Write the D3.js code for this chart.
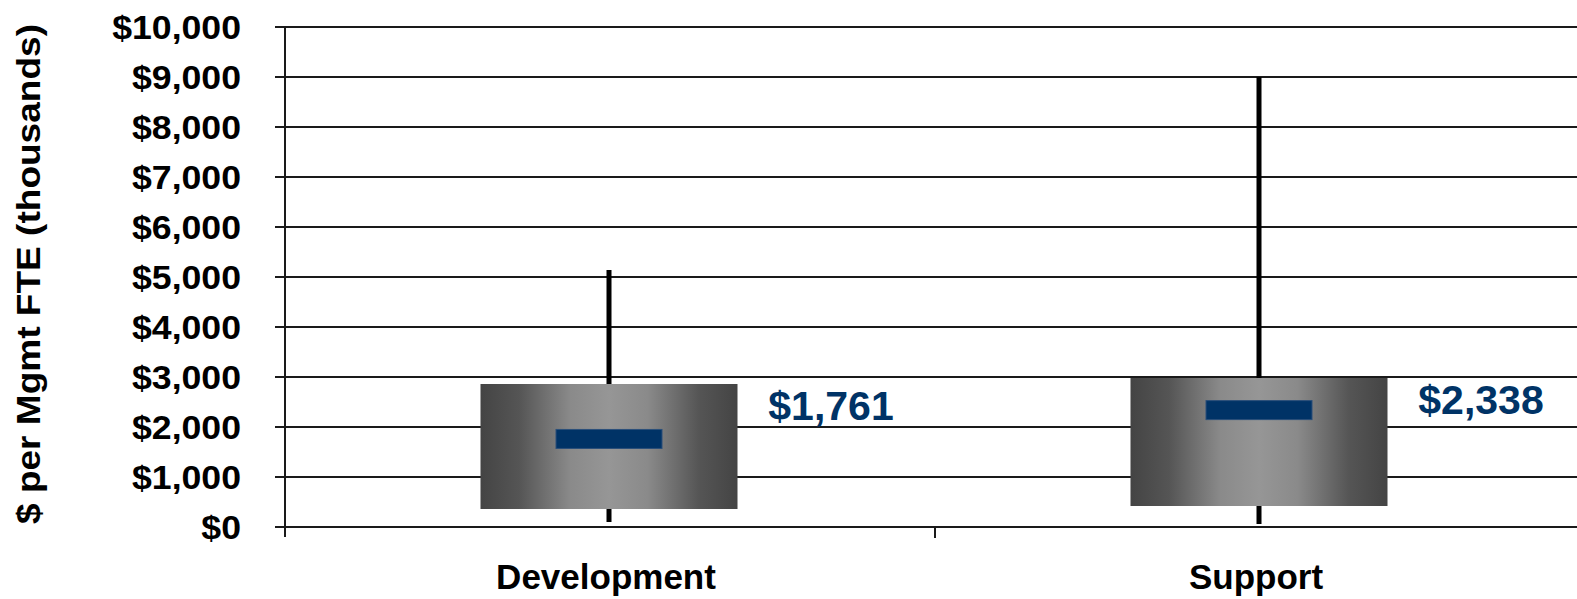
<!DOCTYPE html>
<html><head><meta charset="utf-8">
<script src="https://cdn.jsdelivr.net/npm/d3@7"></script>
<style>body{margin:0;background:#fff;}svg{display:block;}</style>
</head><body>
<script>
const categories = ["Development", "Support"];
const whiskerLow = [100, 60];
const whiskerHigh = [5140, 9000];
const boxLow = [360, 420];
const boxHigh = [2860, 2980];
const medians = [1761, 2338];
const medianLabels = ["$1,761", "$2,338"];
const yTicks = [0,1000,2000,3000,4000,5000,6000,7000,8000,9000,10000];

const W = 1577, H = 599;
const svg = d3.select("body").append("svg").attr("width", W).attr("height", H);
const font = "Arial, 'Liberation Sans', sans-serif";

const y = d3.scaleLinear().domain([0, 10000]).range([527, 27]);
const x = d3.scaleBand().domain(categories).range([285, 1585]).paddingInner(0).paddingOuter(0);

function stretch(sel, f) {
  sel.each(function() {
    const L = this.getComputedTextLength();
    d3.select(this).attr("textLength", L * f).attr("lengthAdjust", "spacingAndGlyphs");
  });
}

const defs = svg.append("defs");
const grad = defs.append("linearGradient").attr("id","boxg").attr("x1","0").attr("x2","1").attr("y1","0").attr("y2","0");
[[0,"#444"],[0.15,"#555"],[0.35,"#8a8a8a"],[0.5,"#969696"],[0.65,"#8a8a8a"],[0.85,"#555"],[1,"#444"]]
  .forEach(([o,c]) => grad.append("stop").attr("offset", o).attr("stop-color", c));

// gridlines
svg.append("g").selectAll("line").data(yTicks).join("line")
  .attr("x1", 275).attr("x2", W).attr("y1", d => y(d)).attr("y2", d => y(d))
  .attr("stroke", "#1a1a1a").attr("stroke-width", 2);

// y axis
const yAxis = d3.axisLeft(y).tickValues(yTicks).tickSize(0).tickPadding(0)
  .tickFormat(d => "$" + d3.format(",")(d));
const ga = svg.append("g").attr("transform", "translate(285,0)").call(yAxis);
ga.select(".domain").remove();
ga.selectAll("text").attr("x", -44).attr("dy", "0.35em")
  .style("font-family", font).style("font-weight", "bold").style("font-size", "33px").attr("fill", "#000")
  .call(stretch, 1.08);
svg.append("line").attr("x1", 285).attr("x2", 285).attr("y1", 27).attr("y2", 537)
  .attr("stroke", "#1a1a1a").attr("stroke-width", 2);

// x axis ticks
svg.append("g").selectAll("line").data([x("Support")]).join("line")
  .attr("x1", d => d).attr("x2", d => d).attr("y1", 527).attr("y2", 538)
  .attr("stroke", "#1a1a1a").attr("stroke-width", 2);

svg.append("g").selectAll("text").data(categories).join("text")
  .attr("x", d => x(d) + x.bandwidth()/2 - 4).attr("y", 589)
  .attr("text-anchor", "middle")
  .style("font-family", font).style("font-weight", "bold").style("font-size", "35px")
  .text(d => d);

// y title
svg.append("text").attr("transform", "translate(40,274) rotate(-90)")
  .attr("text-anchor", "middle")
  .style("font-family", font).style("font-weight", "bold").style("font-size", "33px")
  .text("$ per Mgmt FTE (thousands)")
  .attr("textLength", 500).attr("lengthAdjust", "spacingAndGlyphs");

const bw = 257, mw = 106;
const cx = d => x(d) + x.bandwidth()/2 - 1;
const g = svg.append("g").selectAll("g").data(categories).join("g");
g.append("line")
  .attr("x1", cx).attr("x2", cx)
  .attr("y1", (d,i) => y(whiskerLow[i])).attr("y2", (d,i) => y(whiskerHigh[i]))
  .attr("stroke", "#000").attr("stroke-width", 5);
g.append("rect")
  .attr("x", d => cx(d) - bw/2).attr("width", bw)
  .attr("y", (d,i) => y(boxHigh[i])).attr("height", (d,i) => y(boxLow[i]) - y(boxHigh[i]))
  .attr("fill", "url(#boxg)");
g.append("rect")
  .attr("x", d => cx(d) - mw/2).attr("width", mw)
  .attr("y", (d,i) => y(medians[i]) - 9.5).attr("height", 19)
  .attr("fill", "#003366").attr("stroke", "#2a4f7a").attr("stroke-width", 1);
g.append("text")
  .attr("x", d => cx(d) + 222).attr("y", (d,i) => y(boxHigh[i]) + 36)
  .attr("text-anchor", "middle")
  .style("font-family", font).style("font-weight", "bold").style("font-size", "41px")
  .attr("fill", "#003366")
  .text((d,i) => medianLabels[i]);
</script>
</body></html>
